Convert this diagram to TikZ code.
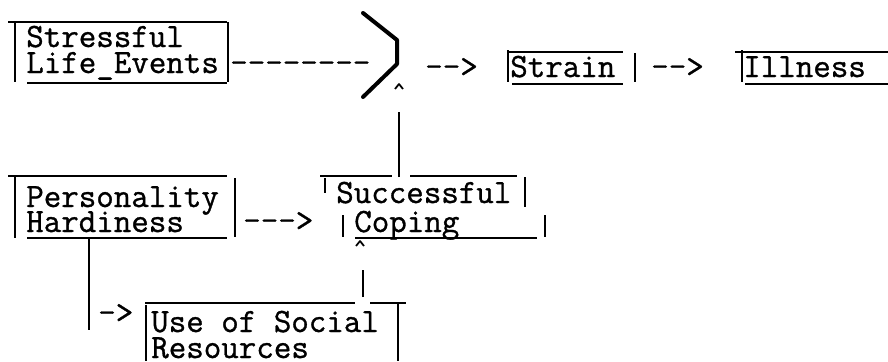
\documentclass[tikz,border=0pt]{standalone}
\usepackage{fontspec}
\setmonofont{Latin Modern Mono}[FakeBold=1]

\tikzset{
  typed/.style={font=\ttfamily\fontsize{25.5}{27}\selectfont, anchor=base west, inner sep=0pt},
  rule/.style={line width=1.3pt},
  brace/.style={line width=3pt, line cap=round, line join=round},
  caret/.style={line width=1.3pt, line join=round},
}

\begin{document}
\begin{tikzpicture}[x=0.75pt,y=-0.75pt]
  \useasboundingbox (0,0) rectangle (888,361);

  % top row of the chart
  \node[typed] (stress) at (26,47) {Stressful};
  \node[typed] (life)   at (26,73) {Life\_Events};
  \node[typed] (dash)   at (230,73) {--------};
  \node[typed] (arrA)   at (425,77) {-->};
  \node[typed] (strain) at (510,77) {Strain};
  \node[typed] (arrB)   at (651,77) {-->};
  \node[typed] (ill)    at (743,77) {Illness};

  % lower rows
  \node[typed] (pers)   at (26,207) {Personality};
  \node[typed] (hard)   at (26,232) {Hardiness};
  \node[typed] (arrC)   at (243,231) {--->};
  \node[typed] (succ)   at (336,203) {Successful};
  \node[typed] (cope)   at (354,232) {Coping};
  \node[typed] (arrD)   at (98,323) {->};
  \node[typed] (use)    at (151,332) {Use of Social};
  \node[typed] (res)    at (151,358) {Resources};

  % typed box rules
  \draw[rule] (8,22) -- (227,22) (15,22) -- (15,82) (228,22) -- (228,82) (27,83) -- (227,83);
  \draw[rule] (508,52) -- (623,52) (508,50) -- (508,82) (635,53) -- (635,82) (512,84) -- (623,84);
  \draw[rule] (735,52) -- (888,52) (742,50) -- (742,82) (745,84) -- (888,84);
  \draw[rule] (8,176) -- (227,176) (15,177) -- (15,238) (235,178) -- (235,237) (27,238) -- (227,238);
  \draw[rule] (320,176) -- (392,176) (410,176) -- (517,176)
              (325,178) -- (325,193) (525,177) -- (525,207)
              (343,215) -- (343,237) (545,215) -- (545,237) (355,238) -- (537,238);
  \draw[rule] (145,303) -- (355,303) (370,303) -- (406,303)
              (146,305) -- (146,361) (398,302) -- (398,361);

  % the joining bracket
  \draw[brace] (363,13) -- (397,40) -- (397,64) -- (363,97);
  \coordinate (joint) at (399,112);
  \coordinate (succtop) at (399,177);
  \draw[caret] (395,89) -- (399,84) -- (403,89);
  \draw[rule] (succtop) -- (joint);

  % social resources up to coping
  \coordinate (copebot) at (363,270);
  \coordinate (usetop) at (363,297);
  \draw[caret] (356,246) -- (360,241) -- (364,246);
  \draw[rule] (usetop) -- (copebot);

  % hardiness down to social resources
  \coordinate (hardbot) at (89,239);
  \coordinate (hardend) at (89,330);
  \draw[rule] (hardbot) -- (hardend);
\end{tikzpicture}
\end{document}
